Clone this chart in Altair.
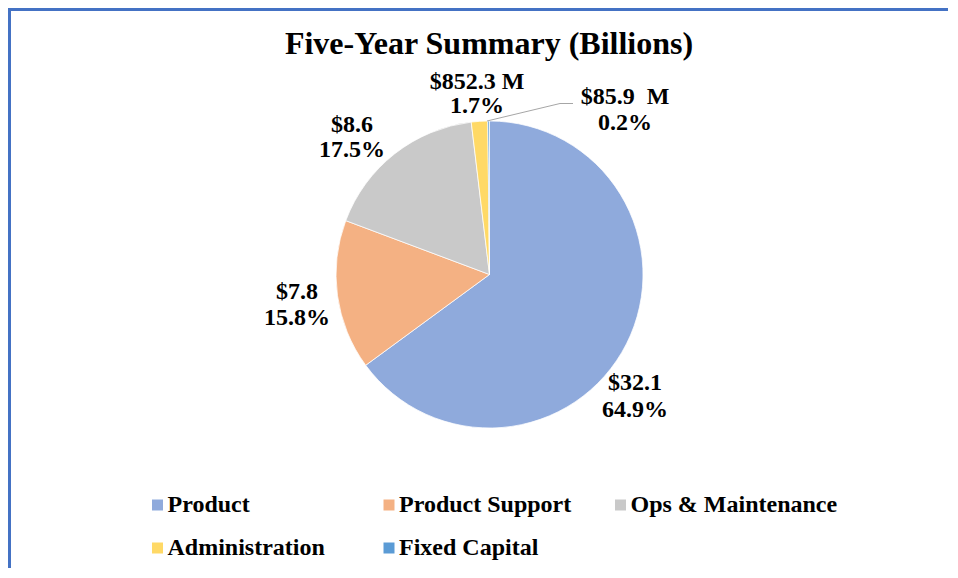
import altair as alt
import pandas as pd

# ---- data ----
categories = ["Product", "Product Support", "Ops & Maintenance", "Administration", "Fixed Capital"]
values_billions = [32.1, 7.8, 8.6, 0.8523, 0.0859]
colors = ["#8FAADC", "#F4B183", "#C9C9C9", "#FFD966", "#5B9BD5"]

label_line1 = ["$32.1", "$7.8", "$8.6", "$852.3 M", "$85.9 \u00a0M"]
label_line2 = ["64.9%", "15.8%", "17.5%", "1.7%", "0.2%"]

# label anchor positions (pixels in plot area) - layout only
label_x = [627, 289, 344, 469, 617]
label_y1 = [375, 284, 117, 74, 89]
label_y2 = [402, 310, 142, 98, 115]

# leader line for the smallest slice (pixels)
leader_x = [479, 552, 565]
leader_y = [113, 95.5, 95.5]

W, H = 940, 560
CX, CY, R = 481.5, 266.5, 153.5
FONT = "Liberation Serif"

pie_df = pd.DataFrame({
    "category": categories,
    "value": values_billions,
    "order": list(range(len(categories))),
})

lab_rows = []
for i in range(len(label_x)):
    lab_rows.append({"t": label_line1[i], "px": label_x[i], "py": label_y1[i]})
    lab_rows.append({"t": label_line2[i], "px": label_x[i], "py": label_y2[i]})
lab_df = pd.DataFrame(lab_rows)

lead_df = pd.DataFrame({"lx": leader_x, "ly": leader_y, "o": list(range(len(leader_x)))})

pie = alt.Chart(pie_df).mark_arc(stroke="white", strokeWidth=0.75).encode(
    theta=alt.Theta("value:Q", stack=True),
    order=alt.Order("order:Q"),
    color=alt.Color(
        "category:N",
        scale=alt.Scale(domain=categories, range=colors),
        sort=categories,
        legend=alt.Legend(
            title=None,
            orient="none",
            legendX=137.5,
            legendY=485,
            direction="horizontal",
            columns=3,
            columnPadding=2.5,
            rowPadding=19,
            gridAlign="all",
            symbolType="square",
            symbolSize=121,
            symbolStrokeWidth=0,
            labelFont=FONT,
            labelFontWeight="bold",
            labelFontSize=24,
            labelColor="black",
            labelOffset={"expr": "-2"},
            labelLimit=0,
            padding=0,
        ),
    ),
    x=alt.value(CX),
    y=alt.value(CY),
    radius=alt.value(R),
)

labels = alt.Chart(lab_df).mark_text(
    font=FONT, fontWeight="bold", fontSize=24, color="black", align="center", baseline="middle"
).encode(
    x=alt.X("px:Q", scale=None),
    y=alt.Y("py:Q", scale=None),
    text="t:N",
)

leader = alt.Chart(lead_df).mark_line(color="#A6A6A6", strokeWidth=1).encode(
    x=alt.X("lx:Q", scale=None),
    y=alt.Y("ly:Q", scale=None),
    order="o:Q",
)

border_top = alt.Chart(pd.DataFrame({"a": [0]})).mark_rule(color="#4472C4", strokeWidth=3).encode(
    x=alt.value(0), x2=alt.value(W), y=alt.value(1.5)
)
border_left = alt.Chart(pd.DataFrame({"a": [0]})).mark_rule(color="#4472C4", strokeWidth=3).encode(
    x=alt.value(1.5), y=alt.value(0), y2=alt.value(H)
)

chart = alt.layer(border_top, border_left, pie, leader, labels).properties(
    width=W,
    height=H,
    autosize=alt.AutoSizeParams(type="none"),
    padding={"left": 0, "top": 0, "right": 0, "bottom": 0},
    title=alt.TitleParams(
        "Five-Year Summary (Billions)",
        font=FONT,
        fontWeight="bold",
        fontSize=32,
        color="black",
        anchor="middle",
        baseline="alphabetic",
        offset=-79,
        dx=11,
    ),
).configure_view(stroke=None).configure(background="white")

chart.save("out.html", embed_options={"renderer": "svg", "actions": False})
